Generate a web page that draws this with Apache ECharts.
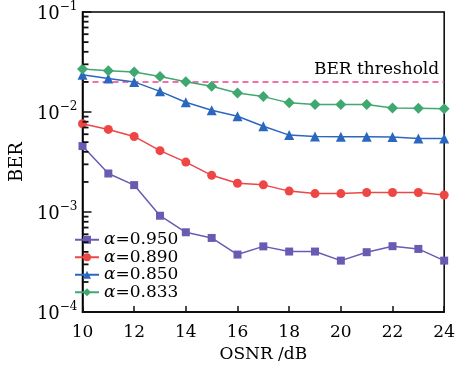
<!DOCTYPE html>
<html><head><meta charset="utf-8">
<script src="https://cdn.jsdelivr.net/npm/echarts@6/dist/echarts.min.js"></script>
<style>html,body{margin:0;padding:0;background:#fff}#c{width:458px;height:368px}</style>
</head><body><div id="c"></div>
<script>
const osnr = [10,11,12,13,14,15,16,17,18,19,20,21,22,23,24];
const ber950 = [0.00457,0.00243,0.00186,0.000919,0.000628,0.000551,0.000376,0.000454,0.000403,0.000403,0.000327,0.000397,0.000456,0.000428,0.000327];
const ber890 = [0.00763,0.00670,0.00570,0.00411,0.00316,0.00233,0.00194,0.00187,0.00162,0.00153,0.00153,0.00157,0.00157,0.00157,0.00148];
const ber850 = [0.0236,0.0216,0.0200,0.0161,0.01253,0.01042,0.00908,0.00722,0.00588,0.00570,0.00567,0.00567,0.00562,0.00545,0.00545];
const ber833 = [0.0269,0.0259,0.0251,0.0227,0.0201,0.0181,0.0155,0.01426,0.01235,0.01188,0.0119,0.0119,0.0110,0.0109,0.0108];
const berThreshold = 0.0191;
const seriesNames = ['α=0.950','α=0.890','α=0.850','α=0.833'];
const xTicks = [10,12,14,16,18,20,22,24];
const yExponents = [-4,-3,-2,-1];
const minorMultipliers = [2,3,4,5,6,7,8,9];

const FONT = 'DejaVu Serif';
const colors = ['#6a5bb2','#ee4545','#2a68bf','#3fa870'];
const symbols = ['rect','circle','triangle','diamond'];
const symSizes = [8,9,10,11];
const dataSets = [ber950, ber890, ber850, ber833];

const minorData = [];
for (let e = yExponents[0]; e < yExponents[yExponents.length-1]; e++) {
  minorMultipliers.forEach(m => minorData.push([osnr[0], m * Math.pow(10, e)]));
}

const series = dataSets.map((d, i) => ({
  name: seriesNames[i],
  type: 'line',
  data: osnr.map((x, k) => [x, d[k]]),
  symbol: symbols[i],
  symbolSize: symSizes[i],
  itemStyle: {color: colors[i]},
  lineStyle: {color: colors[i], width: 1.5},
  z: 3 + i
}));
series[3].markLine = {
  silent: true, symbol: 'none',
  lineStyle: {type: [6,4], color: '#f0408c', width: 1.5},
  label: {show: true, position: 'insideEndTop', formatter: 'BER threshold',
          fontFamily: FONT, fontSize: 17, color: '#000', distance: [5, 4]},
  data: [{yAxis: berThreshold}]
};
series.push({
  type: 'scatter', name: 'minorTicks', silent: true,
  data: minorData,
  symbol: 'rect', symbolSize: [6, 1.8], symbolOffset: [3, 0],
  itemStyle: {color: '#111', opacity: 1},
  z: 20
});

const chart = echarts.init(document.getElementById('c'), null, {renderer: 'canvas'});
chart.setOption({
  backgroundColor: '#fff',
  animation: false,
  grid: {left: 67, right: 11, top: 12, bottom: 55, show: true, borderColor: '#000', borderWidth: 1.5, backgroundColor: 'transparent'},
  legend: {
    data: seriesNames, orient: 'vertical', left: 69, top: 226,
    itemWidth: 24, itemHeight: 10, itemGap: 0,
    textStyle: {fontFamily: FONT, fontSize: 17, color: '#000', lineHeight: 17.5,
      rich: {i: {fontFamily: FONT, fontStyle: 'italic', fontSize: 17, lineHeight: 17.5}}},
    formatter: n => '{i|α}' + n.slice(1)
  },
  xAxis: {
    type: 'value', min: 10, max: 24, interval: 2,
    name: 'OSNR /dB', nameLocation: 'middle', nameGap: 33,
    nameTextStyle: {fontFamily: FONT, fontSize: 17, color: '#000'},
    axisLine: {show: true, lineStyle: {color: '#000', width: 1.5}},
    axisTick: {show: true, inside: true, length: 6, lineStyle: {color: '#111', width: 1.5}},
    axisLabel: {fontFamily: FONT, fontSize: 17, color: '#000', margin: 12,
      formatter: v => xTicks.includes(v) ? String(v) : ''},
    splitLine: {show: false}
  },
  yAxis: {
    type: 'log', logBase: 10, min: 1e-4, max: 1e-1,
    name: 'BER', nameLocation: 'middle', nameGap: 43, nameRotate: 90,
    nameTextStyle: {fontFamily: FONT, fontSize: 18, color: '#000'},
    axisLine: {show: true, lineStyle: {color: '#000', width: 1.5}},
    axisTick: {show: true, inside: true, length: 9, lineStyle: {color: '#111', width: 1.5}},
    axisLabel: {margin: 5, color: '#000',
      formatter: v => {
        const e = Math.round(Math.log10(v));
        return yExponents.includes(e) ? '{b|10}{s|−' + Math.abs(e) + '}' : '';
      },
      rich: {
        b: {fontFamily: FONT, fontSize: 18, color: '#000', lineHeight: 22, verticalAlign: 'bottom'},
        s: {fontFamily: FONT, fontSize: 12, color: '#000', lineHeight: 22, verticalAlign: 'top', padding: [0,0,9,0]}
      }
    },
    splitLine: {show: false}
  },
  series: series
});
</script></body></html>
